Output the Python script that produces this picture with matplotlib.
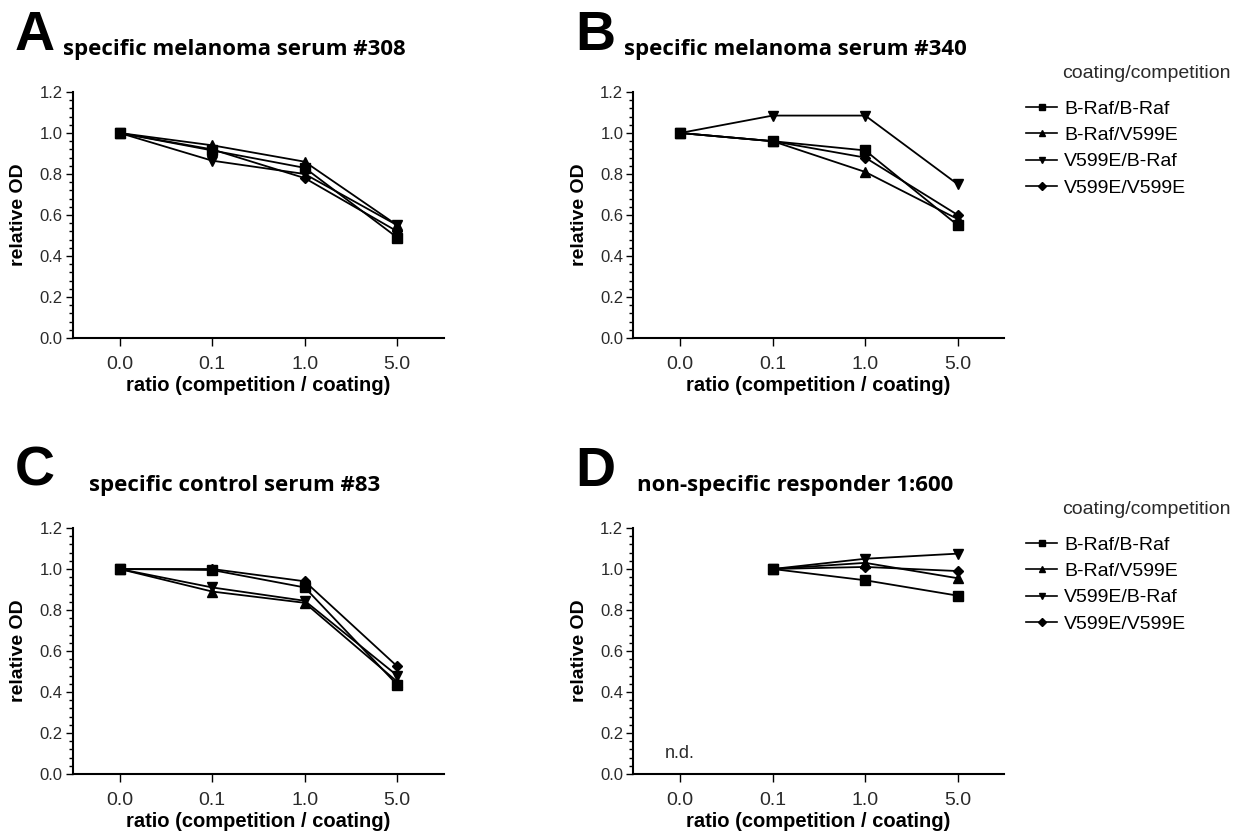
import numpy as np
import matplotlib
matplotlib.use("Agg")
import matplotlib.pyplot as plt
from matplotlib.ticker import MultipleLocator, FormatStrFormatter
from matplotlib.lines import Line2D

plt.rcParams['font.family'] = ['Liberation Sans', 'DejaVu Sans']

# datos
ratios = ["0.0", "0.1", "1.0", "5.0"]
series = ["B-Raf/B-Raf", "B-Raf/V599E", "V599E/B-Raf", "V599E/V599E"]
markers = ["s", "^", "v", "D"]

# panel A - specific melanoma serum #308
a_braf_braf = [1.0, 0.915, 0.83, 0.49]
a_braf_v599e = [1.0, 0.94, 0.86, 0.55]
a_v599e_braf = [1.0, 0.865, 0.80, 0.55]
a_v599e_v599e = [1.0, 0.92, 0.78, 0.52]

# panel B - specific melanoma serum #340
b_braf_braf = [1.0, 0.96, 0.915, 0.55]
b_braf_v599e = [1.0, 0.96, 0.81, 0.58]
b_v599e_braf = [1.0, 1.085, 1.085, 0.75]
b_v599e_v599e = [1.0, 0.96, 0.88, 0.60]

# panel C - specific control serum #83
c_braf_braf = [1.0, 0.995, 0.91, 0.435]
c_braf_v599e = [1.0, 0.89, 0.835, 0.45]
c_v599e_braf = [1.0, 0.91, 0.845, 0.48]
c_v599e_v599e = [1.0, 1.0, 0.94, 0.525]

# panel D - non-specific responder 1:600 (0.0 not determined)
d_braf_braf = [np.nan, 1.0, 0.945, 0.87]
d_braf_v599e = [np.nan, 1.0, 1.03, 0.955]
d_v599e_braf = [np.nan, 1.0, 1.05, 1.075]
d_v599e_v599e = [np.nan, 1.0, 1.01, 0.99]

panels = [
    ("A", "specific melanoma serum #308", [a_braf_braf, a_braf_v599e, a_v599e_braf, a_v599e_v599e]),
    ("B", "specific melanoma serum #340", [b_braf_braf, b_braf_v599e, b_v599e_braf, b_v599e_v599e]),
    ("C", "specific control serum #83", [c_braf_braf, c_braf_v599e, c_v599e_braf, c_v599e_v599e]),
    ("D", "non-specific responder 1:600", [d_braf_braf, d_braf_v599e, d_v599e_braf, d_v599e_v599e]),
]

W, H = 1234, 836
fig = plt.figure(figsize=(W / 100, H / 100), dpi=100)

# posiciones en pixeles: (izquierda, abajo del eje)
pos = {"A": (72.5, 338), "B": (633, 338), "C": (72.5, 774), "D": (633, 774)}
aw, ah = 371, 246
gris = "#2a2a2a"

x = np.arange(len(ratios))
for letra, titulo, datos in panels:
    l, b = pos[letra]
    top = b - ah
    ax = fig.add_axes([l / W, 1 - b / H, aw / W, ah / H])
    for d, m, s in zip(datos, markers, series):
        ms = 5.5 if m == "D" else 7
        ax.plot(x, d, color="black", lw=1.3, marker=m, ms=ms, label=s)
    ax.set_xlim(-0.51, 3.5)
    ax.set_ylim(0, 1.2)
    ax.set_xticks(x)
    ax.set_xticklabels(ratios, fontsize=14, color=gris)
    ax.yaxis.set_major_locator(MultipleLocator(0.2))
    ax.yaxis.set_minor_locator(MultipleLocator(0.04))
    ax.yaxis.set_major_formatter(FormatStrFormatter("%.1f"))
    ax.tick_params(axis="y", which="major", length=5, width=1, pad=2, labelsize=12, labelcolor=gris)
    ax.tick_params(axis="y", which="minor", length=3, width=1)
    ax.tick_params(axis="x", length=6, width=1, pad=7)
    for sp in ["top", "right"]:
        ax.spines[sp].set_visible(False)
    ax.spines["left"].set_linewidth(1.5)
    ax.spines["bottom"].set_linewidth(1.5)
    ax.set_ylabel("relative OD", fontsize=14, fontweight="bold", labelpad=9)
    ax.set_xlabel("ratio (competition / coating)", fontsize=14.5, fontweight="bold", labelpad=2)
    if letra == "D":
        ax.text(0, 0.10, "n.d.", fontsize=13, color=gris, ha="center", va="center")
    # letra y titulo del panel
    fig.text((l - 58) / W, 1 - (top - 56) / H, letra, fontsize=40, fontweight="bold", ha="left", va="center")
    fig.text((l + 162) / W, 1 - (top - 42) / H, titulo, fontsize=16, fontweight="bold",
             family=["Open Sans", "DejaVu Sans"], ha="center", va="center")
    if letra in ("B", "D"):
        fig.text(1062 / W, 1 - (top - 19) / H, "coating/competition", fontsize=14, color=gris,
                 ha="left", va="center")
        handles = [Line2D([], [], color="black", lw=1.2, marker=m, ms=4 if m == "D" else 5) for m in markers]
        fig.legend(handles, series, loc="upper left", bbox_to_anchor=(1026 / W, 1 - (top + 8) / H),
                   frameon=False, fontsize=14, handlelength=1.6, handletextpad=0.35,
                   labelspacing=0.45, borderpad=0, borderaxespad=0)

fig.savefig("out.png", dpi=100)
